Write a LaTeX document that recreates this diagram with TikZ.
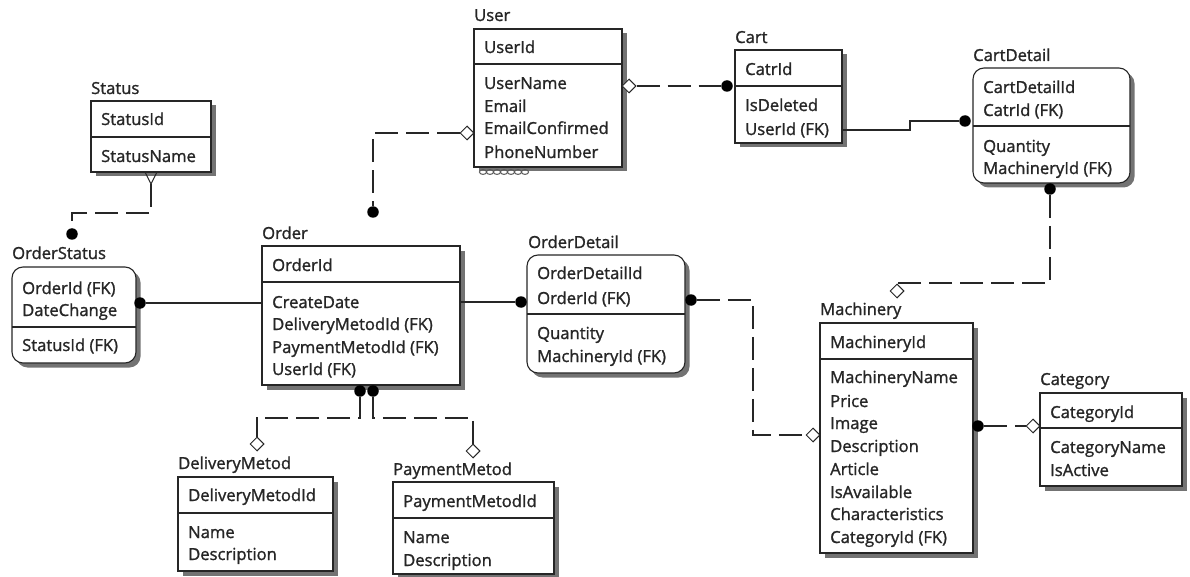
\documentclass[tikz,border=0pt]{standalone}
\usepackage{fontspec}
\setmainfont{Open Sans}[FakeBold=1.3]
\usetikzlibrary{shadows,calc,shapes.geometric}

\begin{document}
\begin{tikzpicture}[x=1pt,y=-1pt,
  font=\fontsize{16.6}{20}\selectfont,
  ent/.style={draw=black!85, line width=1.1pt, fill=white, anchor=north west,
    inner sep=0pt, outer sep=0pt,
    drop shadow={shadow xshift=4.5pt, shadow yshift=-4.5pt, fill=black!55, opacity=1}},
  rent/.style={ent, rounded corners=11pt},
  ttl/.style={anchor=base west, inner sep=0pt, text=black!85},
  fld/.style={anchor=base west, inner sep=0pt, text=black!85},
  sep/.style={draw=black!85, line width=1.1pt},
  rel/.style={draw=black!85, line width=1.1pt},
  idrel/.style={rel, dash pattern=on 23pt off 8pt},
  dot/.style={circle, fill=black, inner sep=0pt, minimum size=11.5pt},
  dia/.style={diamond, draw=black!85, fill=white, line width=1pt, inner sep=0pt,
    minimum width=14pt, minimum height=14pt},
]
\useasboundingbox (0,0) rectangle (1190,577);

% ---------- Status ----------
\node[ent, minimum width=120pt, minimum height=71pt] (Status) at (91,101) {};
\node[ttl] (Status-t) at (91,94) {Status};
\draw[sep] (Status.west |- 0,137) -- (Status.east |- 0,137);
\node[fld] (Status-1) at (101,125) {StatusId};
\node[fld] (Status-2) at (101,162) {StatusName};

% ---------- OrderStatus ----------
\node[rent, minimum width=124pt, minimum height=96pt] (OrderStatus) at (12,267) {};
\node[ttl] (OrderStatus-t) at (12,259) {OrderStatus};
\draw[sep] (OrderStatus.west |- 0,327) -- (OrderStatus.east |- 0,327);
\node[fld] (OrderStatus-1) at (22,294) {OrderId (FK)};
\node[fld] (OrderStatus-2) at (22,316) {DateChange};
\node[fld] (OrderStatus-3) at (22,351) {StatusId (FK)};

% ---------- Order ----------
\node[ent, minimum width=198pt, minimum height=139pt] (Order) at (262,246) {};
\node[ttl] (Order-t) at (262,239) {Order};
\draw[sep] (Order.west |- 0,282) -- (Order.east |- 0,282);
\node[fld] (Order-1) at (272,271) {OrderId};
\node[fld] (Order-2) at (272,308) {CreateDate};
\node[fld] (Order-3) at (272,330) {DeliveryMetodId (FK)};
\node[fld] (Order-4) at (272,353) {PaymentMetodId (FK)};
\node[fld] (Order-5) at (272,375) {UserId (FK)};

% ---------- OrderDetail ----------
\node[rent, minimum width=158pt, minimum height=118pt] (OrderDetail) at (527,255) {};
\node[ttl] (OrderDetail-t) at (528,248) {OrderDetail};
\draw[sep] (OrderDetail.west |- 0,314) -- (OrderDetail.east |- 0,314);
\node[fld] (OrderDetail-1) at (537,279) {OrderDetailId};
\node[fld] (OrderDetail-2) at (537,304) {OrderId (FK)};
\node[fld] (OrderDetail-3) at (537,339) {Quantity};
\node[fld] (OrderDetail-4) at (537,362) {MachineryId (FK)};

% ---------- User ----------
\node[ent, minimum width=148pt, minimum height=138pt] (User) at (474,29) {};
\node[ttl] (User-t) at (474,21) {User};
\draw[sep] (User.west |- 0,64) -- (User.east |- 0,64);
\node[fld] (User-1) at (484,53) {UserId};
\node[fld] (User-2) at (484,89) {UserName};
\node[fld] (User-3) at (484,112) {Email};
\node[fld] (User-4) at (484,134) {EmailConfirmed};
\node[fld] (User-5) at (484,158) {PhoneNumber};
\foreach \i in {0,...,6}
  \draw[black!65, line width=1pt] (483+\i*7,172) ellipse (3.6pt and 2.4pt);

% ---------- Cart ----------
\node[ent, minimum width=107pt, minimum height=93pt] (Cart) at (735,50) {};
\node[ttl] (Cart-t) at (735,43) {Cart};
\draw[sep] (Cart.west |- 0,86) -- (Cart.east |- 0,86);
\node[fld] (Cart-1) at (745,75) {CatrId};
\node[fld] (Cart-2) at (745,111) {IsDeleted};
\node[fld] (Cart-3) at (745,135) {UserId (FK)};

% ---------- CartDetail ----------
\node[rent, minimum width=157pt, minimum height=115pt] (CartDetail) at (973,68) {};
\node[ttl] (CartDetail-t) at (973,61) {CartDetail};
\draw[sep] (CartDetail.west |- 0,126) -- (CartDetail.east |- 0,126);
\node[fld] (CartDetail-1) at (983,93) {CartDetailId};
\node[fld] (CartDetail-2) at (983,116) {CatrId (FK)};
\node[fld] (CartDetail-3) at (983,152) {Quantity};
\node[fld] (CartDetail-4) at (983,174) {MachineryId (FK)};

% ---------- Machinery ----------
\node[ent, minimum width=153pt, minimum height=230pt] (Machinery) at (820,323) {};
\node[ttl] (Machinery-t) at (820,315) {Machinery};
\draw[sep] (Machinery.west |- 0,359) -- (Machinery.east |- 0,359);
\node[fld] (Machinery-1) at (830,348) {MachineryId};
\node[fld] (Machinery-2) at (830,383) {MachineryName};
\node[fld] (Machinery-3) at (830,407) {Price};
\node[fld] (Machinery-4) at (830,429) {Image};
\node[fld] (Machinery-5) at (830,452) {Description};
\node[fld] (Machinery-6) at (830,475) {Article};
\node[fld] (Machinery-7) at (830,498) {IsAvailable};
\node[fld] (Machinery-8) at (830,520) {Characteristics};
\node[fld] (Machinery-9) at (830,543) {CategoryId (FK)};

% ---------- Category ----------
\node[ent, minimum width=142pt, minimum height=93pt] (Category) at (1040,393) {};
\node[ttl] (Category-t) at (1040,385) {Category};
\draw[sep] (Category.west |- 0,428) -- (Category.east |- 0,428);
\node[fld] (Category-1) at (1050,418) {CategoryId};
\node[fld] (Category-2) at (1050,453) {CategoryName};
\node[fld] (Category-3) at (1050,476) {IsActive};

% ---------- DeliveryMetod ----------
\node[ent, minimum width=155pt, minimum height=94pt] (DeliveryMetod) at (178,477) {};
\node[ttl] (DeliveryMetod-t) at (178,469) {DeliveryMetod};
\draw[sep] (DeliveryMetod.west |- 0,513) -- (DeliveryMetod.east |- 0,513);
\node[fld] (DeliveryMetod-1) at (188,501) {DeliveryMetodId};
\node[fld] (DeliveryMetod-2) at (188,538) {Name};
\node[fld] (DeliveryMetod-3) at (188,560) {Description};

% ---------- PaymentMetod ----------
\node[ent, minimum width=161pt, minimum height=92pt] (PaymentMetod) at (393,482) {};
\node[ttl] (PaymentMetod-t) at (393,475) {PaymentMetod};
\draw[sep] (PaymentMetod.west |- 0,518) -- (PaymentMetod.east |- 0,518);
\node[fld] (PaymentMetod-1) at (403,507) {PaymentMetodId};
\node[fld] (PaymentMetod-2) at (403,543) {Name};
\node[fld] (PaymentMetod-3) at (403,566) {Description};

% ---------- relationships ----------
% Status -> OrderStatus
\coordinate (cf) at ($(Status.south)+(0,12)$);
\draw[rel] ($(Status.south)+(-6,0)$) -- (cf) -- ($(Status.south)+(6,0)$);
\node[dot] (osdot) at (72,234) {};
\draw[idrel] (cf) -- (cf |- 0,213) -- (osdot |- 0,213) -- (osdot);

% OrderStatus -> Order
\node[dot] (osodot) at (140,303) {};
\draw[rel] (osodot) -- (Order.west |- osodot);

% Order -> OrderDetail
\node[dot] (ododot) at (521,302) {};
\draw[rel] (Order.east |- ododot) -- (ododot);

% User -> Order
\node[dia] (uodia) at (467,133) {};
\node[dot] (uodot) at (373,212) {};
\draw[idrel] (uodia.west) -- (uodot |- uodia) -- (uodot);

% User -> Cart
\node[dia] (ucdia) at (629,86) {};
\node[dot] (ucdot) at (727,86) {};
\draw[idrel] (ucdia.east) -- (ucdot);

% Cart -> CartDetail
\node[dot] (ccdot) at (965,121) {};
\draw[rel] (Cart.east |- 0,130) -- (910,130) -- (910,121) -- (ccdot);

% CartDetail -> Machinery
\node[dot] (cmdot) at (1050,189) {};
\node[dia] (cmdia) at (897,291) {};
\draw[idrel] (cmdot) -- (cmdot |- 0,283) -- (cmdia.north |- 0,283);

% OrderDetail -> Machinery
\node[dot] (omdot) at (691,300) {};
\node[dia] (omdia) at (813,435) {};
\draw[idrel] (omdot) -- (753,300) -- (753,435) -- (omdia.west);

% Machinery -> Category
\node[dot] (mcdot) at (978,426) {};
\node[dia] (mcdia) at (1033,426) {};
\draw[idrel] (mcdot) -- (mcdia.west);

% Order -> DeliveryMetod / PaymentMetod
\node[dot] (oddot) at (360,391) {};
\node[dot] (opdot) at (373,391) {};
\node[dia] (oddia) at (257,444) {};
\node[dia] (opdia) at (473,451) {};
\draw[idrel] (oddot) -- (oddot |- 0,418) -- (oddia |- 0,418) -- (oddia.north);
\draw[idrel] (opdot) -- (opdot |- 0,418) -- (opdia |- 0,418) -- (opdia.north);
\end{tikzpicture}
\end{document}
